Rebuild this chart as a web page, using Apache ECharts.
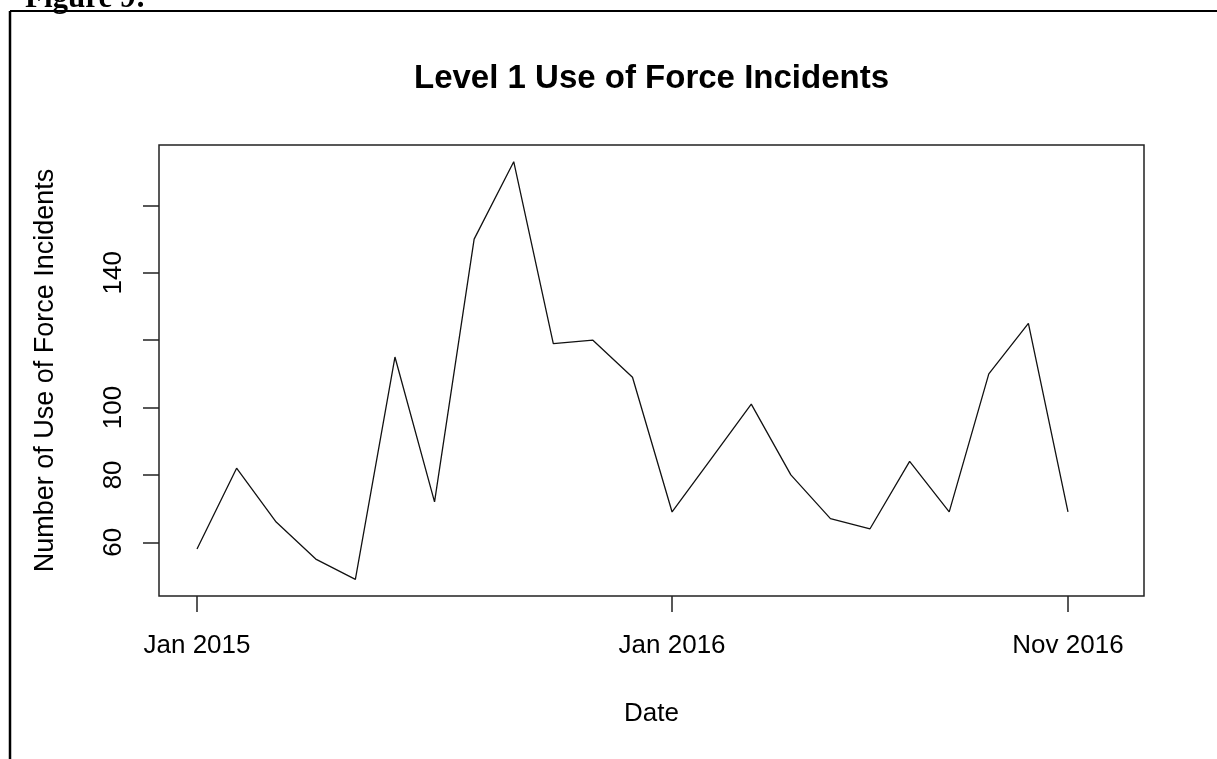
<!DOCTYPE html>
<html>
<head>
<meta charset="utf-8">
<script src="https://cdn.jsdelivr.net/npm/echarts@6/dist/echarts.min.js"></script>
<style>
html,body{margin:0;padding:0;background:#fff;}
#chart{width:1217px;height:759px;}
</style>
</head>
<body>
<div id="chart"></div>
<script>
// Month index 0 = Jan 2015 ... 22 = Nov 2016
const months = ["Jan 2015","Feb 2015","Mar 2015","Apr 2015","May 2015","Jun 2015","Jul 2015","Aug 2015","Sep 2015","Oct 2015","Nov 2015","Dec 2015",
                "Jan 2016","Feb 2016","Mar 2016","Apr 2016","May 2016","Jun 2016","Jul 2016","Aug 2016","Sep 2016","Oct 2016","Nov 2016"];
const incidents = [58, 82, 66, 55, 49, 115, 72, 150, 173, 119, 120, 109, 69, 85, 101, 80, 67, 64, 84, 69, 110, 125, 69];
const xTickIndex = [0, 12, 22];
const xTickLabels = ["Jan 2015", "Jan 2016", "Nov 2016"];
const yTicks = [60, 80, 100, 120, 140, 160];
const yTickLabels = [60, 80, 100, 140];

const seriesData = incidents.map((v, i) => [i, v]);
const labelMap = {};
xTickIndex.forEach((t, i) => { labelMap[t] = xTickLabels[i]; });

const chart = echarts.init(document.getElementById('chart'));
const font = "'Liberation Sans', Arial, sans-serif";
chart.setOption({
  animation: false,
  backgroundColor: '#fff',
  title: {
    text: 'Level 1 Use of Force Incidents',
    left: 414, top: 62, padding: 0,
    textStyle: { fontFamily: font, fontSize: 33, fontWeight: 'bold', color: '#000' }
  },
  grid: {
    left: 159, top: 145, right: 73, bottom: 163,
    show: true, borderColor: '#222', borderWidth: 1.5, backgroundColor: 'transparent'
  },
  xAxis: {
    type: 'value', min: -0.96, max: 23.92,
    name: 'Date', nameLocation: 'middle', nameGap: 105,
    nameTextStyle: { fontFamily: font, fontSize: 26, color: '#000' },
    axisLine: { show: false, onZero: false },
    splitLine: { show: false },
    axisTick: { show: true, inside: false, length: 16, customValues: xTickIndex, lineStyle: { color: '#222', width: 1.5 } },
    axisLabel: { customValues: xTickIndex, margin: 37, fontFamily: font, fontSize: 26, color: '#000',
      formatter: v => labelMap[v] || '' }
  },
  yAxis: {
    type: 'value', min: 44.04, max: 177.96,
    name: 'Number of Use of Force Incidents', nameLocation: 'middle', nameRotate: 90, nameGap: 100,
    nameTextStyle: { fontFamily: font, fontSize: 27, color: '#000' },
    axisLine: { show: false, onZero: false },
    splitLine: { show: false },
    axisTick: { show: true, inside: false, length: 16, customValues: yTicks, lineStyle: { color: '#222', width: 1.5 } },
    axisLabel: { customValues: yTickLabels, rotate: 90, margin: 32, fontFamily: font, fontSize: 26, color: '#000' }
  },
  graphic: [
    { type: 'line', shape: { x1: 10, y1: 11, x2: 1217, y2: 11 }, style: { stroke: '#000', lineWidth: 2 } },
    { type: 'line', shape: { x1: 10, y1: 11, x2: 10, y2: 759 }, style: { stroke: '#000', lineWidth: 2.5 } },
    { type: 'text', left: 25, top: -17,
      style: { text: 'Figure 9:', font: "bold 31px 'Liberation Serif', 'Times New Roman', serif", fill: '#000' } }
  ],
  series: [{
    type: 'line',
    data: seriesData,
    showSymbol: false,
    lineStyle: { color: '#111', width: 1.3 },
    emphasis: { disabled: true }
  }]
});
</script>
</body>
</html>
